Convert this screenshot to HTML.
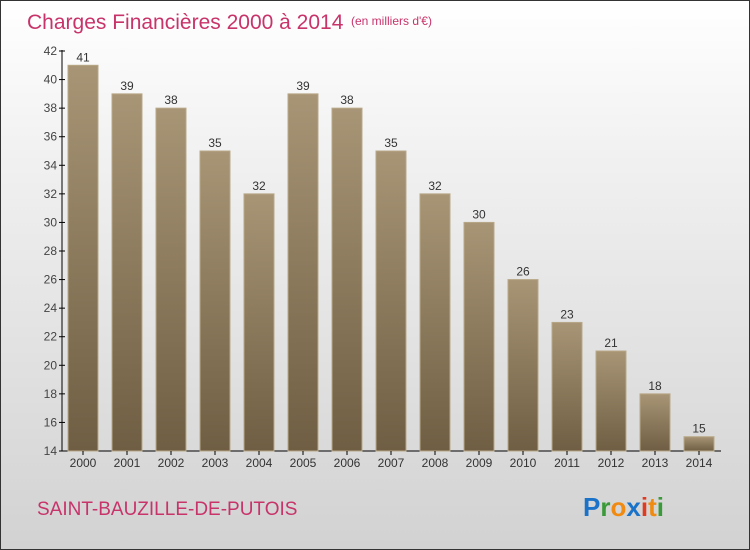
<!DOCTYPE html>
<html><head><meta charset="utf-8"><style>
body{margin:0}
#c{position:relative;width:748px;height:548px;border:1px solid #333;background:linear-gradient(#fff,#f0f0f0 30%,#d2d2d2);font-family:"Liberation Sans",sans-serif;overflow:hidden}
svg text{font-family:"Liberation Sans",sans-serif}
</style></head><body>
<div id="c">
<svg width="748" height="548">
<defs><linearGradient id="g" x1="0" y1="0" x2="0" y2="1"><stop offset="0" stop-color="#a89576"/><stop offset="1" stop-color="#6f5e43"/></linearGradient></defs>
<text x="26" y="28" font-size="21" fill="#c8336a">Charges Financières 2000 à 2014</text>
<text x="350" y="24" font-size="12" fill="#c8336a">(en milliers d'€)</text>
<g id="plot"></g>
<text x="36" y="514" font-size="19" fill="#c8336a">SAINT-BAUZILLE-DE-PUTOIS</text>
<text x="582" y="515" font-size="26" font-weight="bold"><tspan fill="#1a73c8">P</tspan><tspan fill="#3a9a3a">r</tspan><tspan fill="#f08a10">o</tspan><tspan fill="#1a73c8">x</tspan><tspan fill="#e03a20">i</tspan><tspan fill="#f08a10">t</tspan><tspan fill="#3a9a3a">i</tspan></text>
</svg></div>
<script>
const years=["2000","2001","2002","2003","2004","2005","2006","2007","2008","2009","2010","2011","2012","2013","2014"];
const values=[41,39,38,35,32,39,38,35,32,30,26,23,21,18,15];
const yTicks=[14,16,18,20,22,24,26,28,30,32,34,36,38,40,42];
const NS="http://www.w3.org/2000/svg";
const g=document.getElementById('plot');
const y=v=>450-(v-14)*400/28;
const x=i=>82+i*44;
function mk(t,a){const e=document.createElementNS(NS,t);for(const k in a)e.setAttribute(k,a[k]);g.appendChild(e);return e;}
let ax=mk('line',{x1:61,y1:49,x2:61,y2:450,stroke:'#000'});


let bx=mk('line',{x1:61,y1:450,x2:720,y2:450,stroke:'#000'});


yTicks.forEach(t=>{
 mk('line',{x1:58,x2:64,y1:y(t),y2:y(t),stroke:'#000'});
 const l=mk('text',{x:56,y:y(t)+4,'font-size':12,fill:'#444','text-anchor':'end'});l.textContent=t;
 
 
});
years.forEach((yr,i)=>{
 const v=values[i];
 const r=mk('rect',{x:x(i)-15,y:y(v),width:30,height:450-y(v),fill:'url(#g)',stroke:'#b8a888','stroke-width':1});
 
 
 const vl=mk('text',{x:x(i),y:y(v)-4,'font-size':12,fill:'#333','text-anchor':'middle'});vl.textContent=v;
 
 
 mk('line',{x1:x(i),x2:x(i),y1:450,y2:454,stroke:'#000'});
 const xl=mk('text',{x:x(i),y:466,'font-size':12,fill:'#333','text-anchor':'middle'});xl.textContent=yr;
 
 
});
</script>
</body></html>
